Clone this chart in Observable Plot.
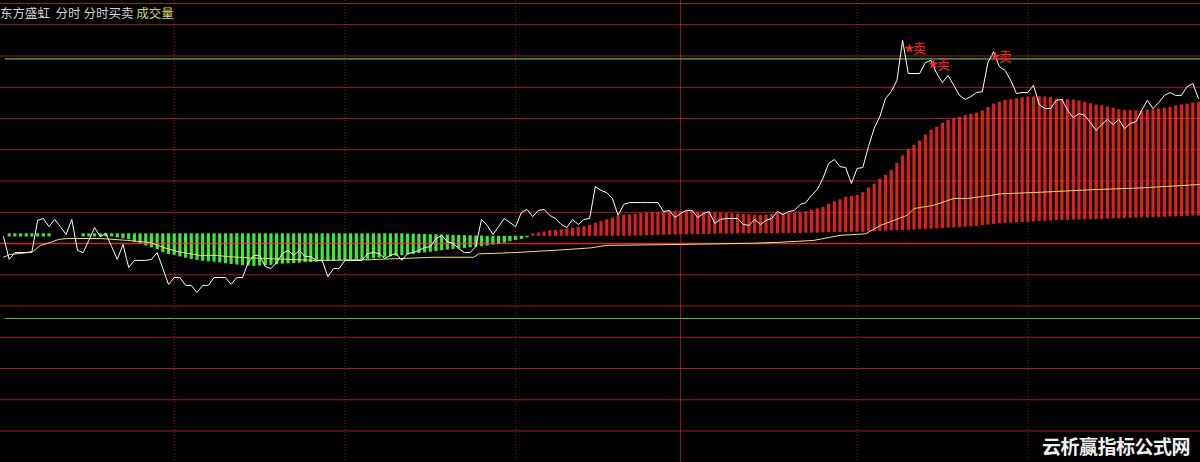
<!DOCTYPE html>
<html>
<head>
<meta charset="utf-8">
<script src="https://cdn.jsdelivr.net/npm/d3@7"></script>
<script src="https://cdn.jsdelivr.net/npm/@observablehq/plot@0.6"></script>
<style>
  html, body { margin: 0; padding: 0; background: #000; }
  #wrap { position: relative; width: 1200px; height: 462px; overflow: hidden; background: #000; }
  #title { position: absolute; left: 0; top: 5px; font: 12.5px/16px "Noto Sans CJK SC", sans-serif; color: #d2d2d2; white-space: pre; }
  #title .vol { color: #cfcf6a; }
  #wm { position: absolute; left: 1042px; top: 434px; font: bold 19px/24px "Noto Sans CJK SC", sans-serif; color: #f2f2f2; letter-spacing: -0.5px; }
</style>
</head>
<body>
<div id="wrap">
  <div id="chart"></div>
  <div id="title">东方盛虹  分时 分时买卖 <span class="vol">成交量</span></div>
  <div id="wm">云析赢指标公式网</div>
</div>
<script>
// ---- data (minute index 0 = 9:30; 11:30/13:00 share one slot) ----
const price = [
 0.22,-0.51,-0.29,-0.29,-0.29,-0.26,0.74,0.80,0.54,0.77,
 0.54,0.29,0.77,-0.22,-0.29,0.10,0.51,0.22,0.32,-0.10,
 -0.51,-0.03,-0.77,-0.54,-0.54,-0.54,-0.51,-0.29,-0.80,-1.31,
 -1.09,-1.09,-1.34,-1.34,-1.57,-1.34,-1.34,-1.09,-1.09,-1.09,
 -1.31,-1.09,-1.09,-0.61,-0.38,-0.38,-0.74,-0.80,-0.61,-0.32,
 -0.22,-0.38,-0.22,-0.42,-0.42,-0.54,-0.54,-1.06,-0.80,-0.80,
 -0.54,-0.54,-0.54,-0.54,-0.32,-0.29,-0.32,-0.48,-0.38,-0.32,
 -0.54,-0.32,-0.29,-0.22,-0.13,-0.10,0.16,0.26,0.06,0.00,
 -0.16,-0.29,-0.29,-0.10,0.77,0.58,0.29,0.54,0.80,0.67,
 0.54,0.99,1.09,0.86,1.06,1.09,0.90,0.80,0.61,0.51,
 0.77,0.61,0.77,0.80,1.82,1.70,1.63,1.44,0.90,1.25,
 1.31,1.31,1.31,1.31,1.31,1.31,1.02,1.06,0.83,0.96,
 1.06,1.06,0.83,0.96,1.02,0.64,0.77,0.80,0.80,0.80,
 0.61,0.58,0.77,0.61,0.74,0.80,1.02,0.93,1.02,1.06,
 1.25,1.31,1.54,1.73,2.08,2.56,2.69,2.46,2.43,1.92,
 2.40,2.43,3.10,3.68,4.06,4.64,4.86,5.22,6.50,5.44,
 5.44,5.44,5.79,5.86,5.44,5.15,5.38,5.06,4.74,4.61,
 4.70,4.83,4.86,5.79,6.14,5.66,5.54,5.22,4.80,4.83,
 4.83,5.06,4.45,4.32,4.32,4.58,4.61,4.26,4.03,4.16,
 4.10,3.87,3.62,3.81,3.97,3.81,3.97,3.68,3.84,3.90,
 4.26,4.58,4.32,4.51,4.74,4.83,4.74,4.74,5.02,5.12,
 4.64
];

// average-price line, read at anchor minutes
const avgMinute = [0,1.2,5,6.5,8.3,9.7,11.2,17,21.8,25.8,28,30.6,31.6,34.6,37.6,39.4,43.4,55,64,75.6,82.6,83.5,87.3,90.9,98.4,103.2,106,119,131.8,136.5,139.5,142.4,145.3,147,151.5,154.1,158.8,160,163.4,167,169.4,173.5,175.2,182.2,191,200,210.4];
const avgValue  = [-0.44,-0.35,-0.28,-0.06,0.04,0.13,0.16,0.16,0.10,0.03,-0.12,-0.26,-0.29,-0.38,-0.38,-0.42,-0.46,-0.54,-0.52,-0.44,-0.44,-0.33,-0.31,-0.28,-0.20,-0.14,-0.06,-0.03,0.01,0.04,0.07,0.10,0.20,0.26,0.31,0.58,0.90,1.12,1.22,1.44,1.44,1.54,1.59,1.64,1.72,1.78,1.89];

// buy/sell histogram: each bar spans from barBase to barSignal
const barBase = [
 0.31,0.31,0.31,0.31,0.31,0.31,0.31,0.31,0.31,0.31,
 0.31,0.31,0.31,0.31,0.31,0.31,0.31,0.31,0.31,0.31,
 0.31,0.31,0.31,0.31,0.31,0.31,0.31,0.31,0.31,0.31,
 0.31,0.31,0.31,0.31,0.31,0.31,0.31,0.31,0.31,0.31,
 0.31,0.31,0.31,0.31,0.31,0.31,0.31,0.31,0.31,0.31,
 0.31,0.31,0.31,0.31,0.31,0.31,0.31,0.31,0.31,0.31,
 0.31,0.31,0.31,0.31,0.31,0.31,0.31,0.31,0.31,0.31,
 0.31,0.30,0.30,0.29,0.29,0.28,0.28,0.27,0.27,0.26,
 0.26,0.25,0.25,0.24,0.24,0.23,0.23,0.23,0.23,0.23,
 0.23,0.23,0.23,0.23,0.23,0.23,0.23,0.23,0.23,0.23,
 0.23,0.23,0.23,0.23,0.23,0.23,0.23,0.23,0.23,0.23,
 0.23,0.24,0.24,0.25,0.25,0.26,0.26,0.27,0.27,0.28,
 0.28,0.28,0.29,0.29,0.29,0.30,0.30,0.30,0.30,0.31,
 0.31,0.31,0.31,0.31,0.31,0.31,0.31,0.32,0.32,0.32,
 0.32,0.33,0.33,0.33,0.34,0.34,0.35,0.35,0.35,0.36,
 0.36,0.36,0.37,0.38,0.39,0.40,0.41,0.41,0.42,0.42,
 0.43,0.44,0.45,0.46,0.47,0.48,0.49,0.50,0.51,0.52,
 0.53,0.55,0.57,0.59,0.61,0.63,0.64,0.65,0.66,0.67,
 0.68,0.69,0.70,0.71,0.72,0.73,0.74,0.74,0.75,0.75,
 0.76,0.76,0.77,0.77,0.78,0.79,0.79,0.80,0.81,0.81,
 0.82,0.82,0.83,0.83,0.84,0.85,0.85,0.86,0.87,0.88,
 0.88
];
const barSignal = [
 0.31,0.21,0.21,0.21,0.21,0.21,0.21,0.21,0.21,0.31,
 0.31,0.31,0.31,0.31,0.21,0.21,0.21,0.21,0.21,0.21,
 0.18,0.15,0.12,0.04,-0.01,-0.08,-0.14,-0.20,-0.29,-0.35,
 -0.38,-0.43,-0.47,-0.51,-0.54,-0.57,-0.59,-0.60,-0.62,-0.65,
 -0.67,-0.69,-0.71,-0.72,-0.73,-0.72,-0.71,-0.70,-0.68,-0.66,
 -0.65,-0.64,-0.63,-0.61,-0.61,-0.60,-0.59,-0.58,-0.57,-0.56,
 -0.55,-0.54,-0.53,-0.52,-0.51,-0.49,-0.47,-0.45,-0.43,-0.41,
 -0.39,-0.37,-0.35,-0.32,-0.30,-0.28,-0.26,-0.23,-0.21,-0.19,
 -0.18,-0.16,-0.14,-0.12,-0.10,-0.08,-0.05,-0.03,0.01,0.06,
 0.10,0.13,0.18,0.31,0.34,0.37,0.41,0.42,0.44,0.47,
 0.49,0.51,0.54,0.58,0.65,0.70,0.76,0.81,0.87,0.90,
 0.92,0.94,0.96,0.98,0.99,1.00,1.01,1.02,1.02,1.02,
 1.02,1.02,1.00,1.00,0.99,0.98,0.97,0.96,0.95,0.94,
 0.93,0.92,0.91,0.90,0.91,0.93,0.95,0.95,0.96,0.97,
 0.98,1.01,1.06,1.11,1.16,1.26,1.33,1.40,1.48,1.51,
 1.54,1.63,1.78,1.90,2.06,2.18,2.34,2.56,2.80,3.01,
 3.14,3.28,3.47,3.62,3.72,3.84,3.94,4.00,4.04,4.09,
 4.14,4.17,4.24,4.35,4.46,4.52,4.58,4.60,4.63,4.66,
 4.68,4.69,4.70,4.69,4.67,4.62,4.60,4.60,4.59,4.56,
 4.52,4.47,4.43,4.41,4.37,4.33,4.28,4.26,4.25,4.24,
 4.24,4.27,4.29,4.31,4.33,4.36,4.40,4.43,4.46,4.50,
 4.52
];

// sell signals
const sellMinute = [159.2, 163.4, 174.3];
const sellValue  = [6.24, 5.73, 5.98];
const sellLabel  = ["卖", "卖", "卖"];

// grid
const gridLevels   = [-6,-5,-4,-3,-2,-1,1,2,3,4,5,6,7,7.68];
const zeroLevel    = [0];
const greenLevels  = [5.91, -2.40];
const halfHourTicks = [30, 60, 90, 150, 180];
const noonTick      = [119];

// ---- build ----
const bars = barSignal.map((b, i) => ({m: i, a: barBase[i], b}));
const priceData = price.map((v, i) => ({m: i, v}));
const avgData = avgValue.map((v, i) => ({m: avgMinute[i], v}));
const sellData = sellMinute.map((m, i) => ({m, v: sellValue[i], t: sellLabel[i]}));

const chart = Plot.plot({
  width: 1200,
  height: 462,
  margin: 0,
  x: {domain: [-0.527, 210.35], axis: null},
  y: {domain: [-7.008, 7.776], axis: null},
  style: {background: "#000", overflow: "visible"},
  marks: [
    Plot.ruleX(halfHourTicks, {stroke: "#ff3a3a", strokeOpacity: 0.5, strokeDasharray: "1,2"}),
    Plot.ruleX(noonTick, {stroke: "#ff3a3a", strokeOpacity: 0.55}),
    Plot.ruleX(bars.filter(d => d.a !== d.b), {
      x: "m", y1: "a", y2: "b",
      stroke: d => d.b > d.a ? "#d8221c" : "#40e640",
      strokeWidth: 3.2
    }),
    Plot.ruleY(gridLevels, {stroke: "#ff3a3a", strokeOpacity: 0.58}),
    Plot.ruleY(zeroLevel, {stroke: "#ff3a3a", strokeOpacity: 0.8, strokeWidth: 1.6}),
    Plot.ruleY(greenLevels, {x1: 0.3, x2: 210.35, stroke: "#55b855", strokeWidth: 1.2}),
    Plot.line(avgData, {x: "m", y: "v", stroke: "#f5df6a", strokeWidth: 1}),
    Plot.line(priceData, {x: "m", y: "v", stroke: "#ffffff", strokeWidth: 1}),
    Plot.dot(sellData, {x: "m", y: "v", symbol: "star", r: 3.2, fill: "#ff2424", stroke: null}),
    Plot.text(sellData, {x: "m", y: "v", text: "t", dx: 10, fill: "#ff2424", fontSize: 13, fontFamily: "Noto Sans CJK SC"})
  ]
});
document.getElementById("chart").append(chart);
</script>
</body>
</html>
